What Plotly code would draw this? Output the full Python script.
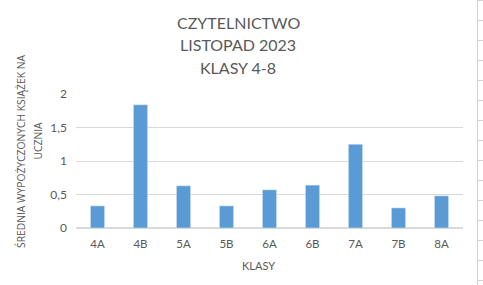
import plotly.graph_objects as go

classes = ["4A", "4B", "5A", "5B", "6A", "6B", "7A", "7B", "8A"]
avg_books = [0.33, 1.84, 0.63, 0.33, 0.57, 0.64, 1.25, 0.30, 0.48]
y_ticks = [0, 0.5, 1, 1.5, 2]
y_tick_labels = ["0", "0,5", "1", "1,5", "2"]
title_lines = ["CZYTELNICTWO", "LISTOPAD 2023", "KLASY 4-8"]
y_title_lines = ["ŚREDNIA WYPOŻYCZONYCH KSIĄŻEK NA", "UCZNIA"]
x_title = "KLASY"

W, H = 483, 285
L, R, T, B = 76, 20, 94, 57
pw, ph = W - L - R, H - T - B
FONT = "Lato"
GRAY = "#595959"


def px_x(x):
    return (x - L) / pw


def px_y(y):
    return (H - B - y) / ph


fig = go.Figure(go.Bar(x=classes, y=avg_books, marker_color="#5B9BD5", width=0.33))

shapes = [dict(type="line", xref="paper", yref="paper", x0=px_x(477.5), x1=px_x(477.5),
               y0=px_y(0), y1=px_y(285), line=dict(color="#d4d4d4", width=1))]
for k in range(15):
    yy = 20 * k + 0.5
    shapes.append(dict(type="line", xref="paper", yref="paper", x0=px_x(477.5), x1=px_x(483),
                       y0=px_y(yy), y1=px_y(yy), line=dict(color="#d4d4d4", width=1)))

annotations = []
for txt, yc in zip(title_lines, [22, 45, 67]):
    annotations.append(dict(text=txt, xref="paper", yref="paper", x=px_x(238), y=px_y(yc),
                            xanchor="center", yanchor="middle", showarrow=False,
                            font=dict(size=16, color=GRAY, family=FONT)))
for txt, xc, yc in zip(y_title_lines, [21, 37.5], [152, 141]):
    annotations.append(dict(text=txt, xref="paper", yref="paper", x=px_x(xc), y=px_y(yc),
                            xanchor="center", yanchor="middle", showarrow=False, textangle=-90,
                            font=dict(size=10.3, color=GRAY, family="Open Sans")))
annotations.append(dict(text=x_title, xref="paper", yref="paper", x=px_x(258), y=px_y(265),
                        xanchor="center", yanchor="middle", showarrow=False,
                        font=dict(size=11, color=GRAY, family=FONT)))

fig.update_layout(
    width=W, height=H, margin=dict(l=L, r=R, t=T, b=B),
    paper_bgcolor="white", plot_bgcolor="white",
    showlegend=False,
    font=dict(family=FONT, color=GRAY, size=11),
    xaxis=dict(showgrid=False, showline=False, ticks="", tickfont=dict(size=11.5, color=GRAY),
               ticklabelstandoff=7),
    yaxis=dict(range=[0, 2], tickvals=y_ticks, ticktext=y_tick_labels, showgrid=True,
               gridcolor="#d9d9d9", gridwidth=1, zeroline=True, zerolinecolor="#d9d9d9",
               ticks="", ticklen=0, tickfont=dict(size=12, color=GRAY), ticklabelstandoff=8),
    shapes=shapes,
    annotations=annotations,
)

fig.write_html("out.html")
